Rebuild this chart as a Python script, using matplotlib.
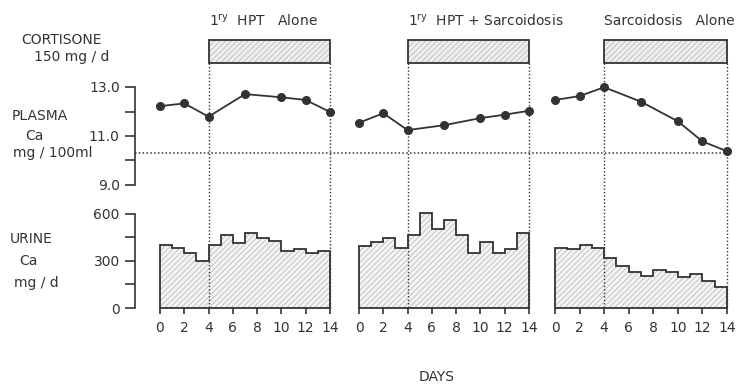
"""
Plasma and urine calcium before and during cortisone, three patient groups.
"""

import numpy as np
import matplotlib
matplotlib.use('Agg')
import matplotlib.pyplot as plt
from matplotlib.patches import Rectangle

# ---- data ----
titles = [r'$\mathregular{1^{ry}}$  HPT   Alone',
          r'$\mathregular{1^{ry}}$  HPT + Sarcoidosis',
          'Sarcoidosis   Alone']

plasma_days = [0, 2, 4, 7, 10, 12, 14]
plasma_hpt = [12.22, 12.33, 11.79, 12.71, 12.58, 12.47, 11.98]
plasma_both = [11.54, 11.93, 11.24, 11.44, 11.73, 11.87, 12.03]
plasma_sarc = [12.47, 12.63, 12.99, 12.40, 11.60, 10.78, 10.38]
plasma_normal_upper = 10.3

urine_edges = list(range(15))
urine_hpt = [404, 379, 347, 299, 404, 466, 415, 475, 447, 426, 363, 373, 347, 365]
urine_both = [392, 422, 447, 383, 464, 606, 500, 559, 464, 347, 422, 347, 376, 475]
urine_sarc = [383, 373, 400, 383, 315, 268, 229, 201, 244, 229, 197, 219, 170, 135]

cortisone_on = (4, 14)
day_ticks = [0, 2, 4, 6, 8, 10, 12, 14]

plasma_sets = [plasma_hpt, plasma_both, plasma_sarc]
urine_sets = [urine_hpt, urine_both, urine_sarc]

# ---- layout (pixels, top-down) ----
W, H = 736, 384
panel_x = [160, 359, 555]
panel_w = [170, 170, 172]
box_top, box_bot = 40, 63.3
plasma_top, plasma_bot = 87, 185
urine_top, urine_bot = 213.7, 308
axis_x = 135
ink = '#333333'
hatch_gray = '#b0b0b0'

plt.rcParams['font.family'] = 'DejaVu Sans'
plt.rcParams['font.size'] = 10
plt.rcParams['hatch.linewidth'] = 0.5
plt.rcParams['hatch.color'] = hatch_gray
plt.rcParams['text.color'] = ink


def rect(x0, x1, y_top, y_bot):
    return [x0 / W, 1 - y_bot / H, (x1 - x0) / W, (y_bot - y_top) / H]


def bare(ax):
    for s in ax.spines.values():
        s.set_visible(False)
    ax.set_xticks([])
    ax.set_yticks([])
    ax.patch.set_visible(False)


fig = plt.figure(figsize=(W / 100, H / 100), dpi=100)

# shared plasma y axis, with dotted upper-normal line across all panels
axp = fig.add_axes(rect(axis_x, 729, plasma_top, plasma_bot))
bare(axp)
axp.spines['left'].set_visible(True)
axp.spines['left'].set_color(ink)
axp.spines['left'].set_linewidth(1.2)
axp.set_ylim(9, 13)
axp.set_xlim(0, 1)
axp.set_yticks([9, 11, 13])
axp.set_yticklabels(['9.0', '11.0', '13.0'])
axp.set_yticks([10, 12], minor=True)
axp.tick_params(axis='y', which='both', direction='out', length=7,
                width=1.2, color=ink, labelcolor=ink, labelsize=10, pad=4)
axp.axhline(plasma_normal_upper, color=ink, lw=1.1, ls=(0, (1, 1.5)))

# shared urine y axis
axu = fig.add_axes(rect(axis_x, panel_x[0], urine_top, urine_bot))
bare(axu)
axu.spines['left'].set_visible(True)
axu.spines['left'].set_color(ink)
axu.spines['left'].set_linewidth(1.2)
axu.set_ylim(0, 600)
axu.set_yticks([0, 300, 600])
axu.set_yticks([150, 450], minor=True)
axu.tick_params(axis='y', which='both', direction='out', length=7,
                width=1.2, color=ink, labelcolor=ink, labelsize=10, pad=4)

for i in range(3):
    x0, x1 = panel_x[i], panel_x[i] + panel_w[i]

    # plasma
    ax1 = fig.add_axes(rect(x0, x1, plasma_top, plasma_bot))
    bare(ax1)
    ax1.set_xlim(0, 14)
    ax1.set_ylim(9, 13)
    ax1.plot(plasma_days, plasma_sets[i], color=ink, lw=1.3, marker='o',
             ms=5.5, clip_on=False)

    # urine
    ax2 = fig.add_axes(rect(x0, x1, urine_top, urine_bot))
    bare(ax2)
    ax2.set_xlim(0, 14)
    ax2.set_ylim(0, 600)
    ax2.stairs(urine_sets[i], urine_edges, baseline=0, fill=True,
               facecolor='#f4f4f4', edgecolor=hatch_gray, lw=0,
               hatch='//////', clip_on=False)
    ax2.stairs(urine_sets[i], urine_edges, baseline=0, fill=False,
               edgecolor=ink, lw=1.3, clip_on=False)
    ax2.spines['bottom'].set_visible(True)
    ax2.spines['bottom'].set_color(ink)
    ax2.spines['bottom'].set_linewidth(1.3)
    ax2.spines['bottom'].set_linestyle((0, (1, 1)))
    ax2.set_xticks(day_ticks)
    ax2.tick_params(axis='x', direction='out', length=4, width=1.2,
                    color=ink, labelcolor=ink, labelsize=10, pad=5)

    # cortisone bar and dotted guides, on top
    axo = fig.add_axes(rect(x0, x1, box_top, urine_bot))
    bare(axo)
    axo.set_xlim(0, 14)
    axo.set_ylim(urine_bot, box_top)
    span = cortisone_on[1] - cortisone_on[0]
    axo.add_patch(Rectangle((cortisone_on[0], box_bot), span, box_top - box_bot,
                            facecolor='#efefef', edgecolor=hatch_gray, lw=0,
                            hatch='//////', clip_on=False))
    axo.add_patch(Rectangle((cortisone_on[0], box_bot), span, box_top - box_bot,
                            facecolor='none', edgecolor=ink, lw=1.3,
                            clip_on=False))
    axo.vlines(cortisone_on, box_bot, urine_bot, color=ink, lw=1.0,
               linestyles=[(0, (1, 1.5))], clip_on=False)
    axo.text(cortisone_on[0], 21, titles[i], ha='left', va='center',
             fontsize=10, color=ink)

# left-hand labels
fig.text(62 / W, 1 - 40 / H, 'CORTISONE', ha='center', va='center')
fig.text(72 / W, 1 - 57 / H, '150 mg / d', ha='center', va='center')
fig.text(40 / W, 1 - 116 / H, 'PLASMA', ha='center', va='center')
fig.text(34 / W, 1 - 136 / H, 'Ca', ha='center', va='center')
fig.text(53 / W, 1 - 153 / H, 'mg / 100ml', ha='center', va='center')
fig.text(31 / W, 1 - 239 / H, 'URINE', ha='center', va='center')
fig.text(28 / W, 1 - 261 / H, 'Ca', ha='center', va='center')
fig.text(36 / W, 1 - 283 / H, 'mg / d', ha='center', va='center')
fig.text(437 / W, 1 - 377 / H, 'DAYS', ha='center', va='center')

fig.savefig('out.png', dpi=100)
